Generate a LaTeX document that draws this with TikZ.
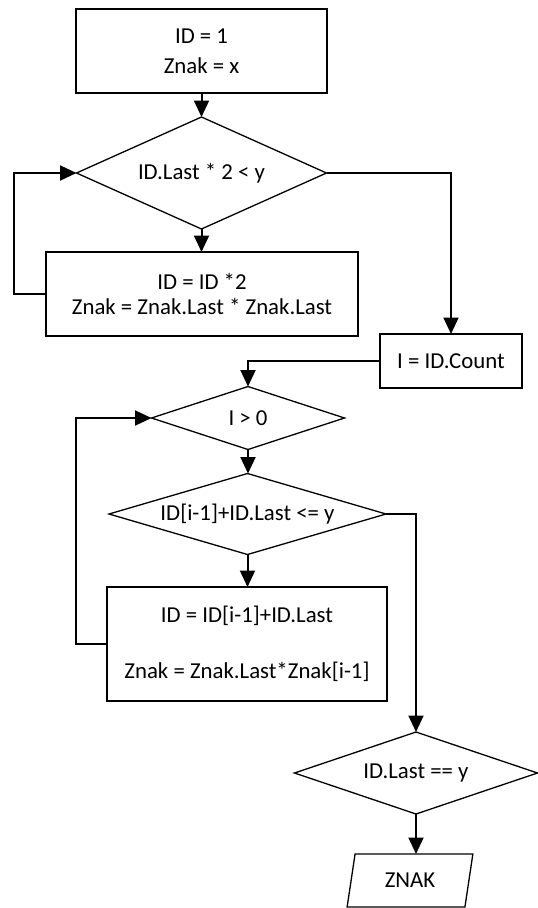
\documentclass[tikz,border=0pt]{standalone}
\usepackage{fontspec}
\setmainfont{Carlito}
\usetikzlibrary{shapes.geometric,arrows.meta}
\begin{document}
\begin{tikzpicture}[x=1pt,y=-1pt,
  font=\fontsize{22.8}{25}\selectfont,
  box/.style={draw,line width=1.3pt,rectangle,inner sep=0pt,outer sep=0pt,align=center},
  dec/.style={draw,line width=1.3pt,diamond,inner sep=0pt,outer sep=0pt,align=center},
  conn/.style={line width=2pt,-{Triangle[width=15pt,length=16.5pt]}}]
\useasboundingbox (0,0) rectangle (538,908);
\node[box,minimum width=251pt,minimum height=84pt] (b1) at (201.5,51) {ID = 1\\[5pt]Znak = x};
\node[dec,aspect=2.23,minimum width=250pt,minimum height=112pt] (d1) at (201.5,173) {ID.Last * 2 < y};
\node[box,minimum width=312pt,minimum height=84pt] (b2) at (202,294) {ID = ID *2\\Znak = Znak.Last * Znak.Last};
\node[box,minimum width=142pt,minimum height=54pt] (b3) at (451,361) {I = ID.Count};
\node[dec,aspect=3.06,minimum width=193pt,minimum height=63pt] (d2) at (248,418) {I > 0};
\node[dec,aspect=3.42,minimum width=277pt,minimum height=81pt] (d3) at (247.5,514) {ID[i-1]+ID.Last <= y};
\node[box,minimum width=280pt,minimum height=114pt] (b4) at (247,644) {ID = ID[i-1]+ID.Last\\[31pt]Znak = Znak.Last*Znak[i-1]};
\node[dec,aspect=2.99,minimum width=243pt,minimum height=82pt] (d4) at (416,773) {ID.Last == y};
\node[trapezium,trapezium left angle=76,trapezium right angle=104,trapezium stretches=true,
  draw,line width=1.3pt,minimum width=126pt,minimum height=53pt,inner sep=0pt,outer sep=0pt] (out) at (410,880.5) {ZNAK};
\draw[conn] (b1.south) -- (b1.south |- d1.north);
\draw[conn] (d1.south) -- (d1.south |- b2.north);
\draw[conn] (b2.west) -- ++(-32,0) |- (d1.west);
\draw[conn] (d1.east) -| (b3.north);
\draw[conn] (b3.west) -| (d2.north);
\draw[conn] (d2.south) -- (d2.south |- d3.north);
\draw[conn] (d3.south) -- (d3.south |- b4.north);
\draw[conn] (b4.west) -- ++(-31,0) |- (d2.west);
\draw[conn] (d3.east) -| (d4.north);
\draw[conn] (d4.south) -- (d4.south |- out.north);
\end{tikzpicture}
\end{document}
